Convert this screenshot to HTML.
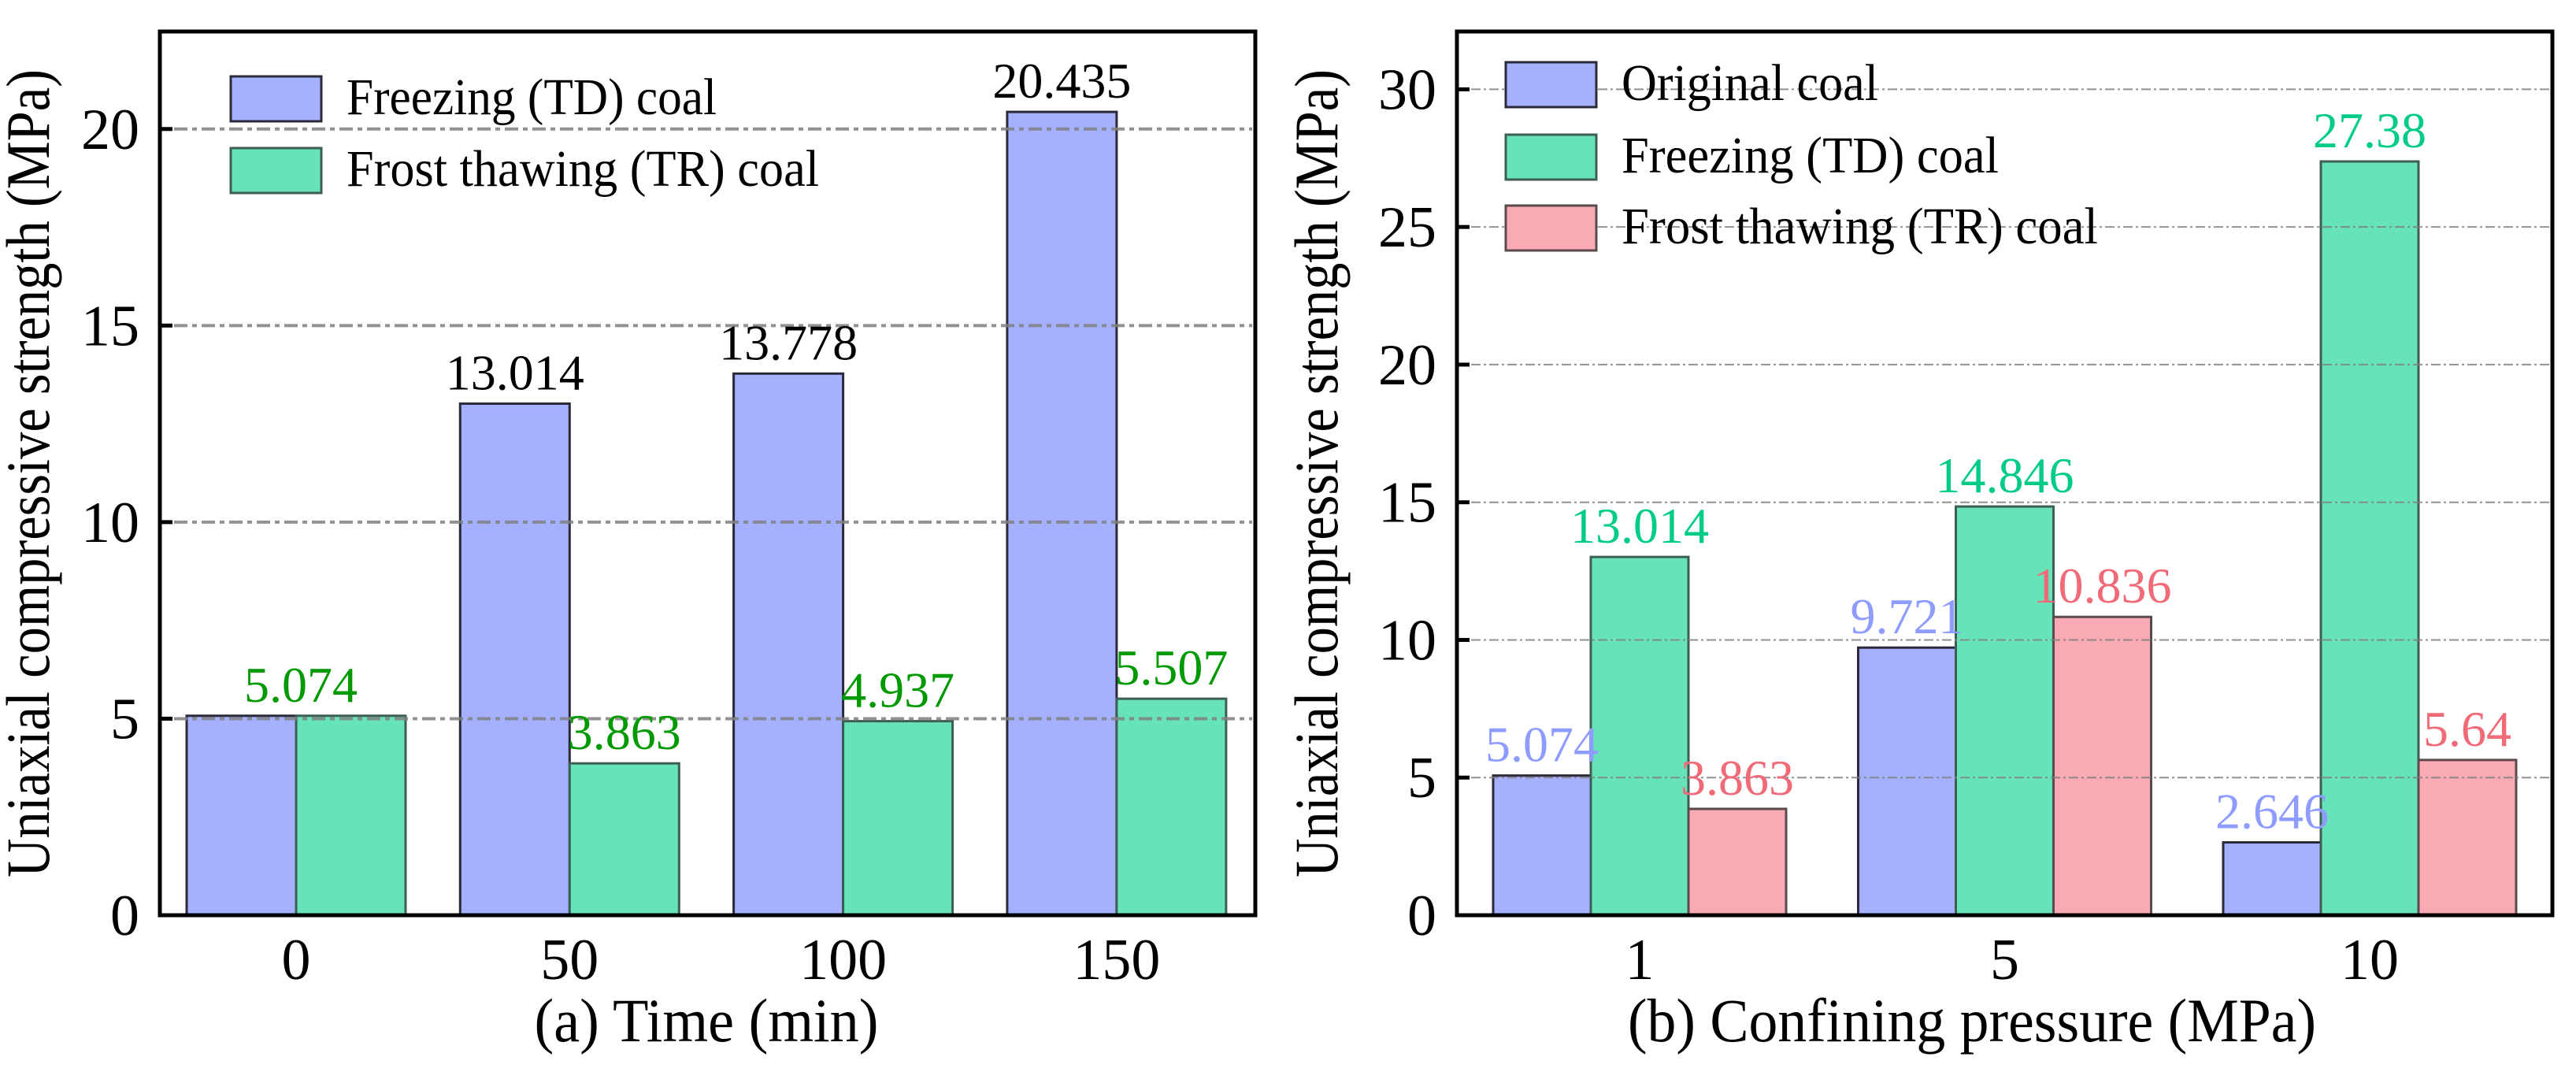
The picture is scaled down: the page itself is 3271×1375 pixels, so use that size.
<!DOCTYPE html>
<html><head><meta charset="utf-8"><style>
html,body{margin:0;padding:0;background:#fff;}
svg{display:block;}
svg text{font-family:"Liberation Serif","Times New Roman",serif;}
</style></head><body>
<svg id="chart" width="3271" height="1375" viewBox="0 0 3271 1375" xmlns="http://www.w3.org/2000/svg"></svg>
<script>
// Panel (a) data
const catsA = ["0","50","100","150"];
const tdA = [5.074, 13.014, 13.778, 20.435];
const trA = [5.074, 3.863, 4.937, 5.507];
const ticksA = [0,5,10,15,20];
// Panel (b) data
const catsB = ["1","5","10"];
const origB = [5.074, 9.721, 2.646];
const tdB = [13.014, 14.846, 27.38];
const trB = [3.863, 10.836, 5.64];
const ticksB = [0,5,10,15,20,25,30];

const NS="http://www.w3.org/2000/svg";
const svg=document.getElementById('chart');
function mk(tag,attrs,parent,text){const e=document.createElementNS(NS,tag);for(const k in attrs)e.setAttribute(k,attrs[k]);if(tag==='text')e.setAttribute('font-family','Liberation Serif, Times New Roman, serif');if(text!==undefined)e.textContent=text;(parent||svg).appendChild(e);return e;}

function panel(o){
  const g=mk('g',{});
  
  
  const y=v=>o.bottom-(v/o.ymax)*(o.bottom-o.top);
  const cx=i=>o.c0+i*o.step;
  const nS=o.series.length;
  o.series.forEach((s,si)=>{
    s.vals.forEach((v,i)=>{
      const x0=cx(i)-nS*o.bw/2+si*o.bw;
      const r=mk('rect',{x:x0,y:y(v),width:o.bw,height:o.bottom-y(v),fill:s.fill,stroke:s.stroke,'stroke-width':3},g);
      
      
    });
  });
  o.ticks.forEach(t=>{
    if(t===0)return;
    const l=mk('line',{x1:o.left+18,x2:o.right-4,y1:y(t),y2:y(t),stroke:'#808080','stroke-width':o.gw,'stroke-dasharray':o.dash,opacity:0.85},g);
    
    
  });
  o.series.forEach((s,si)=>{
    s.vals.forEach((v,i)=>{
      if(s.skip && s.skip.includes(i))return;
      let x0=cx(i)-nS*o.bw/2+si*o.bw+o.bw/2;
      if(s.center && s.center.includes(i))x0=cx(i)+6;
      const t=mk('text',{x:x0,y:y(v)-18,'text-anchor':'middle','font-size':64,fill:s.lab},g,String(v));
      
      
    });
  });
  const f=mk('rect',{x:o.left,y:o.top,width:o.right-o.left,height:o.bottom-o.top,fill:'none',stroke:'#000','stroke-width':5},g);
  
  
  o.ticks.forEach(t=>{
    const tk=mk('line',{x1:o.left,x2:o.left+16,y1:y(t),y2:y(t),stroke:'#000','stroke-width':5},g);
    
    
    const tl=mk('text',{x:o.left-26,y:y(t)+25,'text-anchor':'end','font-size':74},g,String(t));
    
    
  });
  o.cats.forEach((c,i)=>{
    const tl=mk('text',{x:cx(i),y:1243,'text-anchor':'middle','font-size':74},g,c);
    
    
  });
  const xt=mk('text',{x:o.xtX,y:1322,'text-anchor':'middle','font-size':78,textLength:o.xtLen,lengthAdjust:'spacingAndGlyphs'},g,o.xtitle);
  
  
  const yt=mk('text',{x:0,y:0,'text-anchor':'middle','font-size':78,textLength:1026,lengthAdjust:'spacingAndGlyphs',transform:'translate('+o.ytX+',601) rotate(-90)'},g,'Uniaxial compressive strength (MPa)');
  
  
  o.series.forEach((s,si)=>{
    const ly=o.legY[si];
    const lb=mk('rect',{x:o.legX,y:ly,width:115,height:57,fill:s.fill,stroke:s.stroke,'stroke-width':3},g);
    
    
    const lt=mk('text',{x:o.legX+147,y:ly+48,'font-size':66,textLength:s.legLen,lengthAdjust:'spacingAndGlyphs'},g,s.label);
    
    
  });
}

panel({name:'panel-a-time',left:203,right:1594,top:40,bottom:1162,ymax:22.48,ticks:ticksA,cats:catsA,
  c0:376,step:347.3,bw:139,gw:4,dash:'17 6 6 6',xtitle:'(a) Time (min)',xtX:897,xtLen:437,ytX:62,
  legX:293,legY:[97,188],
  series:[
    {key:'freezing-td',vals:tdA,fill:'#a5b0ff',stroke:'#2a2a3a',lab:'#000',label:'Freezing (TD) coal',legLen:470,skip:[0]},
    {key:'frost-thawing-tr',vals:trA,fill:'#66e3b8',stroke:'#3d5e54',lab:'#009900',label:'Frost thawing (TR) coal',legLen:600,center:[0]}
  ]});

panel({name:'panel-b-confining-pressure',left:1850,right:3241,top:40,bottom:1162,ymax:32.1,ticks:ticksB,cats:catsB,
  c0:2082,step:463.5,bw:124,gw:2,dash:'12 4 3 4',xtitle:'(b) Confining pressure (MPa)',xtX:2504,xtLen:874,ytX:1698,
  legX:1912,legY:[79,171,261],
  series:[
    {key:'original',vals:origB,fill:'#a5b0ff',stroke:'#2a2a3a',lab:'#8f9cff',label:'Original coal',legLen:326},
    {key:'freezing-td',vals:tdB,fill:'#66e3b8',stroke:'#3d5e54',lab:'#00cc88',label:'Freezing (TD) coal',legLen:479},
    {key:'frost-thawing-tr',vals:trB,fill:'#f9aab2',stroke:'#5a4a4c',lab:'#f06a78',label:'Frost thawing (TR) coal',legLen:605}
  ]});
</script>
</body></html>
